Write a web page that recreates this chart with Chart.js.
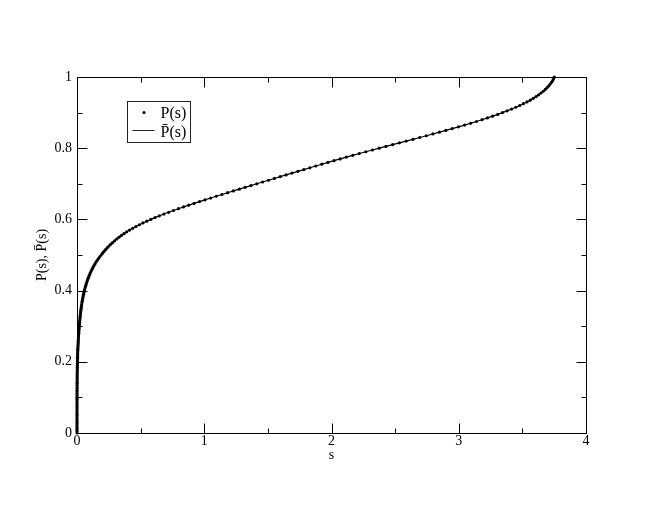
<!DOCTYPE html>
<html>
<head>
<meta charset="utf-8">
<title>P(s)</title>
<script src="https://cdn.jsdelivr.net/npm/chart.js@4/dist/chart.umd.min.js"></script>
<style>
  html, body { margin: 0; padding: 0; background: #fff; }
  #my-chart { display: block; }
</style>
</head>
<body>
<canvas id="my-chart" width="660" height="510"></canvas>
<script>
'use strict';

// ************** Data ***************************

// P levels of the sampled points
let pValues = [
  0, 0.005, 0.01, 0.015, 0.02, 0.025, 0.03, 0.035, 0.04, 0.045,
  0.05, 0.055, 0.06, 0.065, 0.07, 0.075, 0.08, 0.085, 0.09, 0.095,
  0.1, 0.105, 0.11, 0.115, 0.12, 0.125, 0.13, 0.135, 0.14, 0.145,
  0.15, 0.155, 0.16, 0.165, 0.17, 0.175, 0.18, 0.185, 0.19, 0.195,
  0.2, 0.205, 0.21, 0.215, 0.22, 0.225, 0.23, 0.235, 0.24, 0.245,
  0.25, 0.255, 0.26, 0.265, 0.27, 0.275, 0.28, 0.285, 0.29, 0.295,
  0.3, 0.305, 0.31, 0.315, 0.32, 0.325, 0.33, 0.335, 0.34, 0.345,
  0.35, 0.355, 0.36, 0.365, 0.37, 0.375, 0.38, 0.385, 0.39, 0.395,
  0.4, 0.405, 0.41, 0.415, 0.42, 0.425, 0.43, 0.435, 0.44, 0.445,
  0.45, 0.455, 0.46, 0.465, 0.47, 0.475, 0.48, 0.485, 0.49, 0.495,
  0.5, 0.505, 0.51, 0.515, 0.52, 0.525, 0.53, 0.535, 0.54, 0.545,
  0.55, 0.555, 0.56, 0.565, 0.57, 0.575, 0.58, 0.585, 0.59, 0.595,
  0.6, 0.605, 0.61, 0.615, 0.62, 0.625, 0.63, 0.635, 0.64, 0.645,
  0.65, 0.655, 0.66, 0.665, 0.67, 0.675, 0.68, 0.685, 0.69, 0.695,
  0.7, 0.705, 0.71, 0.715, 0.72, 0.725, 0.73, 0.735, 0.74, 0.745,
  0.75, 0.755, 0.76, 0.765, 0.77, 0.775, 0.78, 0.785, 0.79, 0.795,
  0.8, 0.805, 0.81, 0.815, 0.82, 0.825, 0.83, 0.835, 0.84, 0.845,
  0.85, 0.855, 0.86, 0.865, 0.87, 0.875, 0.88, 0.885, 0.89, 0.895,
  0.9, 0.905, 0.91, 0.915, 0.92, 0.925, 0.93, 0.935, 0.94, 0.945,
  0.95, 0.955, 0.96, 0.965, 0.97, 0.975, 0.98, 0.985, 0.99, 0.995,
  1
];

// s for each P level
let sValues = [
  0, 0, 0, 0, 0, 0, 0, 0, 0, 0,
  0, 0, 0, 0, 0.0001, 0.0001, 0.0001, 0.0001, 0.0001, 0.0002,
  0.0002, 0.0003, 0.0003, 0.0004, 0.0005, 0.0005, 0.0006, 0.0007, 0.0009, 0.0010,
  0.0011, 0.0013, 0.0015, 0.0016, 0.0019, 0.0021, 0.0023, 0.0026, 0.0029, 0.0032,
  0.0036, 0.0039, 0.0043, 0.0047, 0.0052, 0.0057, 0.0062, 0.0068, 0.0074, 0.0080,
  0.0087, 0.0094, 0.0102, 0.0110, 0.0118, 0.0127, 0.0137, 0.0147, 0.0157, 0.0168,
  0.0180, 0.0191, 0.0202, 0.0215, 0.0228, 0.0241, 0.0256, 0.0271, 0.0288, 0.0305,
  0.0323, 0.0343, 0.0363, 0.0385, 0.0408, 0.0433, 0.0459, 0.0486, 0.0516, 0.0547,
  0.0580, 0.0615, 0.0653, 0.0693, 0.0735, 0.0780, 0.0828, 0.0878, 0.0932, 0.0989,
  0.1049, 0.1113, 0.1181, 0.1253, 0.1330, 0.1411, 0.1497, 0.1589, 0.1686, 0.1789,
  0.1900, 0.2008, 0.2122, 0.2243, 0.2370, 0.2505, 0.2647, 0.2797, 0.2956, 0.3124,
  0.3300, 0.3491, 0.3694, 0.3908, 0.4135, 0.4375, 0.4628, 0.4897, 0.5181, 0.5481,
  0.580, 0.613, 0.647, 0.683, 0.720, 0.758, 0.797, 0.837, 0.878, 0.920,
  0.963, 1.006, 1.050, 1.094, 1.139, 1.184, 1.229, 1.275, 1.321, 1.367,
  1.413, 1.459, 1.505, 1.551, 1.597, 1.643, 1.689, 1.736, 1.783, 1.830,
  1.877, 1.924, 1.972, 2.020, 2.068, 2.117, 2.167, 2.218, 2.270, 2.322,
  2.375, 2.428, 2.481, 2.534, 2.587, 2.640, 2.693, 2.745, 2.797, 2.848,
  2.899, 2.949, 2.998, 3.046, 3.093, 3.139, 3.183, 3.225, 3.266, 3.306,
  3.344, 3.380, 3.415, 3.448, 3.479, 3.508, 3.536, 3.562, 3.586, 3.608,
  3.628, 3.647, 3.664, 3.680, 3.694, 3.707, 3.719, 3.729, 3.738, 3.745,
  3.751
];

let seriesLabels = ['P(s)', 'P\u0304(s)'];

// ************** Axis ticks *********************

let xMajorTicks = [0, 1, 2, 3, 4];
let xMinorTicks = [0.5, 1.5, 2.5, 3.5];
let yMajorTicks = [0, 0.2, 0.4, 0.6, 0.8, 1];
let yMinorTicks = [0.1, 0.3, 0.5, 0.7, 0.9];

let xTitle = 's';
let yTitle = 'P(s), P\u0304(s)';

// ************** Helpers ************************

let serif = '"Liberation Serif", "Times New Roman", serif';

let points = [];
for (let i = 0; i < sValues.length; i++) {
  points.push({ x: sValues[i], y: pValues[i] });
}

// frame + inward ticks on all four sides
let framePlugin = {
  id: 'frame',
  beforeDatasetsDraw(chart) {
    let c = chart.ctx;
    let area = chart.chartArea;
    let xs = chart.scales.x;
    let ys = chart.scales.y;
    let l = Math.round(area.left) + 0.5;
    let r = Math.round(area.right) + 0.5;
    let t = Math.round(area.top) + 0.5;
    let b = Math.round(area.bottom) + 0.5;

    c.save();
    c.strokeStyle = '#000';
    c.lineWidth = 1;
    c.strokeRect(l, t, r - l, b - t);

    c.beginPath();
    function xTick(v, len) {
      let px = Math.round(xs.getPixelForValue(v)) + 0.5;
      c.moveTo(px, b); c.lineTo(px, b - len);
      c.moveTo(px, t); c.lineTo(px, t + len);
    }
    function yTick(v, len) {
      let py = Math.round(ys.getPixelForValue(v)) + 0.5;
      c.moveTo(l, py); c.lineTo(l + len, py);
      c.moveTo(r, py); c.lineTo(r - len, py);
    }
    xMajorTicks.forEach(v => xTick(v, 10));
    xMinorTicks.forEach(v => xTick(v, 5));
    yMajorTicks.forEach(v => yTick(v, 10));
    yMinorTicks.forEach(v => yTick(v, 5));
    c.stroke();
    c.restore();
  }
};

// boxed legend in the upper left of the plot
let legendPlugin = {
  id: 'boxLegend',
  afterDatasetsDraw(chart) {
    let c = chart.ctx;
    let area = chart.chartArea;
    let bx = Math.round(area.left) + 50.5;
    let by = Math.round(area.top) + 24.5;

    c.save();
    c.strokeStyle = '#222';
    c.lineWidth = 1;
    c.strokeRect(bx, by, 63, 41);

    // dot sample
    c.fillStyle = '#000';
    c.beginPath();
    c.arc(bx + 16.5, by + 11, 1.5, 0, Math.PI * 2);
    c.fill();

    // line sample
    c.beginPath();
    c.moveTo(bx + 5, by + 29);
    c.lineTo(bx + 27, by + 29);
    c.stroke();

    c.font = '16px ' + serif;
    c.textAlign = 'left';
    c.textBaseline = 'alphabetic';
    c.fillText(seriesLabels[0], bx + 33, by + 16);
    c.fillText(seriesLabels[1], bx + 33, by + 35);
    c.restore();
  }
};

// ************** Chart **************************

let ctx = document.getElementById('my-chart').getContext('2d');

let tickFont = { family: serif, size: 14 };
let titleFont = { family: serif, size: 14 };

new Chart(ctx, {
  type: 'scatter',
  data: {
    datasets: [{
      label: seriesLabels[0],
      data: points,
      showLine: false,
      pointRadius: 1.6,
      pointBorderWidth: 0,
      pointBackgroundColor: '#000',
      clip: false
    },
    {
      label: seriesLabels[1],
      data: points,
      showLine: true,
      borderColor: '#000',
      borderWidth: 1.2,
      pointRadius: 0,
      tension: 0,
      clip: false
    }]
  },
  options: {
    responsive: false,
    animation: false,
    events: [],
    layout: { padding: { left: 30, top: 77, right: 74, bottom: 42 } },
    plugins: { legend: { display: false }, tooltip: { enabled: false } },
    scales: {
      x: {
        type: 'linear',
        min: 0,
        max: 4,
        afterFit(scale) { scale.height = 35; },
        afterBuildTicks(scale) { scale.ticks = xMajorTicks.map(v => ({ value: v })); },
        ticks: { padding: 0, color: '#000', font: tickFont, maxRotation: 0, callback: v => String(v) },
        grid: { display: false, drawTicks: false },
        border: { display: false },
        title: { display: true, text: xTitle, color: '#000', font: titleFont, padding: { top: 4, bottom: 4 } }
      },
      y: {
        type: 'linear',
        min: 0,
        max: 1,
        afterFit(scale) { scale.width = 47; },
        afterBuildTicks(scale) { scale.ticks = yMajorTicks.map(v => ({ value: v })); },
        ticks: { padding: 5, color: '#000', font: tickFont, callback: v => String(v) },
        grid: { display: false, drawTicks: false },
        border: { display: false },
        title: { display: true, text: yTitle, color: '#000', font: titleFont, padding: { top: 4, bottom: 4 } }
      }
    }
  },
  plugins: [framePlugin, legendPlugin]
});
</script>
</body>
</html>
